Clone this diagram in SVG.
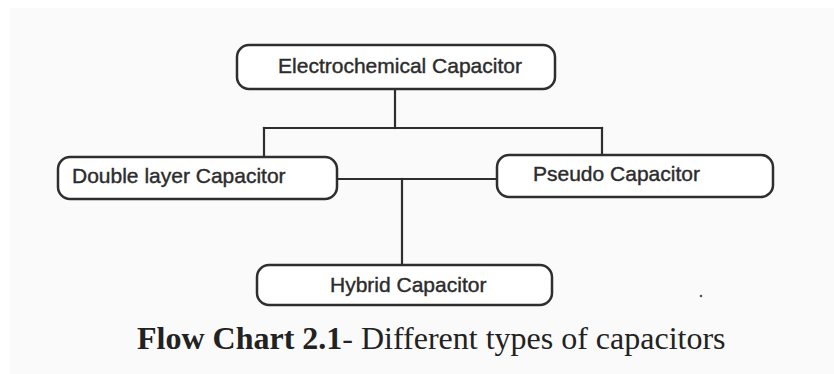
<svg xmlns="http://www.w3.org/2000/svg" width="834" height="374" viewBox="0 0 834 374">
  <style>
    .box { fill: #ffffff; stroke: #2e2e2e; stroke-width: 2.5; }
    .lbl { font-family: "Liberation Sans", Arial, sans-serif; font-size: 21px; fill: #2c2c2c; stroke: #2c2c2c; stroke-width: 0.4; }
    .conn { stroke: #2e2e2e; stroke-width: 2.2; fill: none; stroke-linecap: square; }
    .cap { font-family: "Liberation Serif", "Times New Roman", serif; font-size: 32px; fill: #222222; }
  </style>
  <rect x="0" y="0" width="834" height="374" fill="#ffffff"/>
  <rect x="10" y="8" width="824" height="366" fill="#fafafa"/>

  <g id="connectors">
    <path class="conn" d="M395,89 V128"/>
    <path class="conn" d="M264,128 H602"/>
    <path class="conn" d="M264,128 V157"/>
    <path class="conn" d="M602,128 V155"/>
    <path class="conn" d="M337,179 H497"/>
    <path class="conn" d="M402,179 V265"/>
  </g>

  <g id="electrochemical">
    <rect class="box" x="237" y="45" width="318" height="44" rx="12" ry="12"/>
    <text class="lbl" x="400" y="73" text-anchor="middle">Electrochemical Capacitor</text>
  </g>

  <g id="double-layer">
    <rect class="box" x="58" y="157" width="279" height="42" rx="12" ry="12"/>
    <text class="lbl" x="72" y="183">Double layer Capacitor</text>
  </g>

  <g id="pseudo">
    <rect class="box" x="497" y="155" width="276" height="42" rx="12" ry="12"/>
    <text class="lbl" x="533" y="181">Pseudo Capacitor</text>
  </g>

  <g id="hybrid">
    <rect class="box" x="257" y="265" width="295" height="40" rx="12" ry="12"/>
    <text class="lbl" x="330" y="292">Hybrid Capacitor</text>
  </g>

  <circle cx="701" cy="296" r="1.3" fill="#555555"/>

  <text class="cap" x="137" y="349"><tspan font-weight="bold">Flow Chart 2.1</tspan>- Different types of capacitors</text>
</svg>
